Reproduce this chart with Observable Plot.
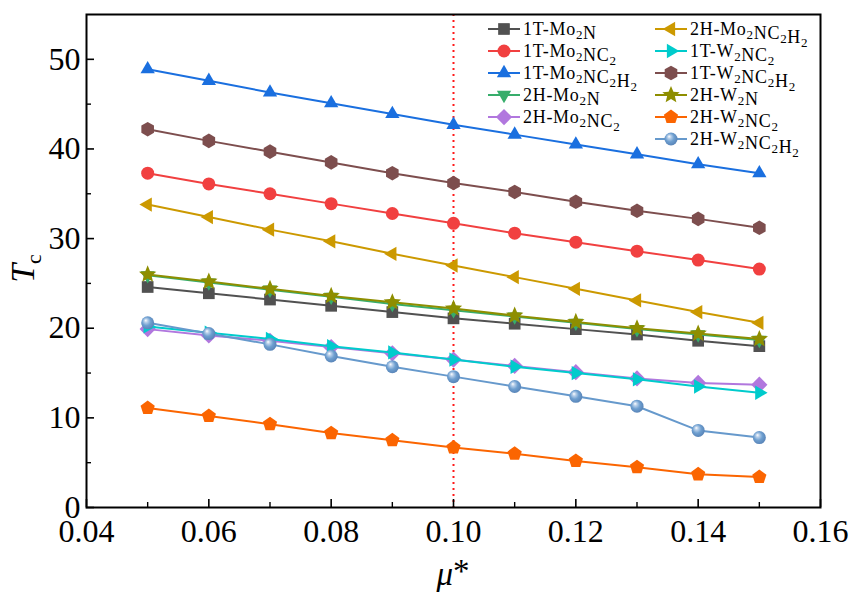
<!DOCTYPE html>
<html>
<head>
<meta charset="utf-8">
<script src="https://cdn.jsdelivr.net/npm/d3@7"></script>
<script src="https://cdn.jsdelivr.net/npm/@observablehq/plot@0.6"></script>
<style>
  html, body { margin: 0; padding: 0; background: white; }
  #chart { width: 856px; height: 600px; }
</style>
</head>
<body>
<div id="chart"></div>
<script>
// ---------- data ----------
const mu = [0.05, 0.06, 0.07, 0.08, 0.09, 0.10, 0.11, 0.12, 0.13, 0.14, 0.15];

const seriesNames = [
  "1T-Mo2N", "1T-Mo2NC2", "1T-Mo2NC2H2", "2H-Mo2N", "2H-Mo2NC2",
  "2H-Mo2NC2H2", "1T-W2NC2", "1T-W2NC2H2", "2H-W2N", "2H-W2NC2", "2H-W2NC2H2"
];
const seriesColors = [
  "#515151", "#f14040", "#1a6fdf", "#37ad6b", "#b177de",
  "#cc9900", "#00cbcc", "#7d4e4e", "#8e8e00", "#fb6501", "#6699cc"
];
const seriesSymbols = [
  "square", "circle", "triangleUp", "triangleDown", "diamond",
  "triangleLeft", "triangleRight", "hexagon", "star", "pentagon", "sphere"
];

const tc_1T_Mo2N      = [24.6, 23.9, 23.2, 22.5, 21.8, 21.1, 20.5, 19.9, 19.3, 18.6, 18.0];
const tc_1T_Mo2NC2    = [37.3, 36.1, 35.0, 33.9, 32.8, 31.7, 30.6, 29.6, 28.6, 27.6, 26.6];
const tc_1T_Mo2NC2H2  = [48.9, 47.6, 46.3, 45.1, 43.9, 42.7, 41.6, 40.5, 39.4, 38.3, 37.3];
const tc_2H_Mo2N      = [25.9, 25.1, 24.3, 23.5, 22.7, 22.0, 21.3, 20.6, 19.9, 19.3, 18.7];
const tc_2H_Mo2NC2    = [19.9, 19.2, 18.6, 17.9, 17.2, 16.5, 15.8, 15.1, 14.4, 13.9, 13.7];
const tc_2H_Mo2NC2H2  = [33.8, 32.4, 31.0, 29.7, 28.3, 27.0, 25.7, 24.4, 23.1, 21.8, 20.6];
const tc_1T_W2NC2     = [20.2, 19.5, 18.8, 18.0, 17.3, 16.5, 15.7, 15.0, 14.3, 13.5, 12.8];
const tc_1T_W2NC2H2   = [42.2, 40.9, 39.7, 38.5, 37.3, 36.2, 35.2, 34.1, 33.1, 32.2, 31.2];
const tc_2H_W2N       = [26.0, 25.2, 24.4, 23.6, 22.9, 22.2, 21.4, 20.7, 20.0, 19.4, 18.8];
const tc_2H_W2NC2     = [11.1, 10.2, 9.3, 8.3, 7.5, 6.7, 6.0, 5.2, 4.5, 3.7, 3.4];
const tc_2H_W2NC2H2   = [20.6, 19.4, 18.2, 16.9, 15.7, 14.6, 13.5, 12.4, 11.3, 8.6, 7.8];

const seriesValues = [
  tc_1T_Mo2N, tc_1T_Mo2NC2, tc_1T_Mo2NC2H2, tc_2H_Mo2N, tc_2H_Mo2NC2,
  tc_2H_Mo2NC2H2, tc_1T_W2NC2, tc_1T_W2NC2H2, tc_2H_W2N, tc_2H_W2NC2, tc_2H_W2NC2H2
];

const xMajor = [0.04, 0.06, 0.08, 0.10, 0.12, 0.14, 0.16];
const xMinor = [0.05, 0.07, 0.09, 0.11, 0.13, 0.15];
const yMajor = [0, 10, 20, 30, 40, 50];
const yMinor = [5, 15, 25, 35, 45];
const muStar = [0.10];

// ---------- symbols ----------
function polygon(ctx, R, n, startAngle) {
  for (let i = 0; i < n; i++) {
    const a = startAngle + i * 2 * Math.PI / n;
    const px = R * Math.cos(a), py = R * Math.sin(a);
    if (i === 0) ctx.moveTo(px, py); else ctx.lineTo(px, py);
  }
  ctx.closePath();
}
const rOf = size => Math.sqrt(size / Math.PI);
const symbolDefs = {
  square: { draw(ctx, size) { const s = rOf(size) * 0.9; ctx.rect(-s, -s, 2 * s, 2 * s); } },
  circle: { draw(ctx, size) { const r = rOf(size); ctx.moveTo(r, 0); ctx.arc(0, 0, r, 0, 2 * Math.PI); ctx.closePath(); } },
  sphere: { draw(ctx, size) { const r = rOf(size); ctx.moveTo(r, 0); ctx.arc(0, 0, r, 0, 2 * Math.PI); ctx.closePath(); } },
  triangleUp: { draw(ctx, size) { const R = rOf(size) * 1.27; polygon(ctx, R, 3, -Math.PI / 2); } },
  triangleDown: { draw(ctx, size) { const R = rOf(size) * 1.27; polygon(ctx, R, 3, Math.PI / 2); } },
  triangleLeft: { draw(ctx, size) { const R = rOf(size) * 1.27; polygon(ctx, R, 3, Math.PI); } },
  triangleRight: { draw(ctx, size) { const R = rOf(size) * 1.27; polygon(ctx, R, 3, 0); } },
  diamond: { draw(ctx, size) { const R = rOf(size) * 1.25; polygon(ctx, R, 4, -Math.PI / 2); } },
  hexagon: { draw(ctx, size) { const R = rOf(size) * 1.12; polygon(ctx, R, 6, -Math.PI / 2); } },
  pentagon: { draw(ctx, size) { const R = rOf(size) * 1.15; polygon(ctx, R, 5, -Math.PI / 2); } },
  star: { draw(ctx, size) {
    const R = rOf(size) * 1.4, r = R * 0.45;
    for (let i = 0; i < 10; i++) {
      const a = -Math.PI / 2 + i * Math.PI / 5;
      const rr = i % 2 === 0 ? R : r;
      if (i === 0) ctx.moveTo(rr * Math.cos(a), rr * Math.sin(a)); else ctx.lineTo(rr * Math.cos(a), rr * Math.sin(a));
    }
    ctx.closePath();
  } }
};

// ---------- chart ----------
const FONT = "Liberation Serif";
const W = 856, H = 600;
const mL = 86, mR = 36, mT = 14, mB = 93;
const innerW = W - mL - mR, innerH = H - mT - mB;
const dotR = 6.5;

const marks = [
  Plot.ruleX(muStar, {x: d => d, stroke: "#ff1a1a", strokeWidth: 2, strokeDasharray: "2,4"})
];
seriesNames.forEach((name, k) => {
  const rows = mu.map((m, i) => ({x: m, y: seriesValues[k][i]}));
  const fill = seriesSymbols[k] === "sphere" ? "url(#sphereGrad)" : seriesColors[k];
  marks.push(Plot.line(rows, {x: "x", y: "y", stroke: seriesColors[k], strokeWidth: 2}));
  marks.push(Plot.dot(rows, {x: "x", y: "y", r: dotR, symbol: symbolDefs[seriesSymbols[k]], fill, stroke: "none"}));
});
marks.push(
  Plot.ruleX(xMajor, {x: d => d, insetTop: innerH - 8, stroke: "black", strokeWidth: 1.6}),
  Plot.ruleX(xMinor, {x: d => d, insetTop: innerH - 5, stroke: "black", strokeWidth: 1.4}),
  Plot.ruleY(yMajor, {y: d => d, insetRight: innerW - 8, stroke: "black", strokeWidth: 1.6}),
  Plot.ruleY(yMinor, {y: d => d, insetRight: innerW - 5, stroke: "black", strokeWidth: 1.4}),
  Plot.frame({stroke: "black", strokeWidth: 2}),
  Plot.text(xMajor, {x: d => d, text: d => d.toFixed(2), frameAnchor: "bottom", lineAnchor: "top", dy: 12,
    fontFamily: FONT, fontSize: 32, fill: "black"}),
  Plot.text(yMajor, {y: d => d, text: d => String(d), frameAnchor: "left", textAnchor: "end", lineAnchor: "middle", dx: -6,
    fontFamily: FONT, fontSize: 32, fill: "black"})
);

const chart = Plot.plot({
  width: W, height: H,
  marginLeft: mL, marginRight: mR, marginTop: mT, marginBottom: mB,
  style: {fontFamily: FONT, background: "white", color: "black"},
  x: {domain: [0.04, 0.16], axis: null},
  y: {domain: [0, 55], axis: null},
  marks
});
document.getElementById("chart").appendChild(chart);

// ---------- decorations ----------
const svg = d3.select(chart);

const defs = svg.insert("defs", ":first-child");
const grad = defs.append("radialGradient").attr("id", "sphereGrad")
  .attr("cx", "0.45").attr("cy", "0.45").attr("r", "0.6").attr("fx", "0.35").attr("fy", "0.3");
grad.append("stop").attr("offset", "0%").attr("stop-color", "#ffffff");
grad.append("stop").attr("offset", "22%").attr("stop-color", "#b9d0ea");
grad.append("stop").attr("offset", "55%").attr("stop-color", "#6e9fd0");
grad.append("stop").attr("offset", "100%").attr("stop-color", "#5580b4");

// axis titles
const xt = svg.append("text").attr("x", mL + innerW / 2).attr("y", 585)
  .attr("text-anchor", "middle").attr("font-family", FONT).attr("font-size", 33);
xt.append("tspan").attr("font-style", "italic").text("μ");
xt.append("tspan").attr("dy", "-3").text("*");

const yt = svg.append("text").attr("transform", `translate(34, ${mT + innerH / 2 + 8}) rotate(-90)`)
  .attr("text-anchor", "middle").attr("font-family", FONT).attr("font-size", 34);
yt.append("tspan").attr("font-style", "italic").text("T");
yt.append("tspan").attr("dy", "7").attr("font-size", 22).text("c");

// legend
function addLabel(sel, name) {
  let prevLetter = false;
  for (const ch of name) {
    const isDigit = /[0-9]/.test(ch);
    if (isDigit && prevLetter) {
      sel.append("tspan").attr("dy", 4).attr("font-size", 13).text(ch);
      sel.append("tspan").attr("dy", -4).text("");
    } else {
      sel.append("tspan").text(ch);
    }
    prevLetter = /[A-Za-z]/.test(ch);
  }
}
const legendCols = [
  {lx: 488, names: seriesNames.slice(0, 5), start: 0},
  {lx: 655, names: seriesNames.slice(5), start: 5}
];
const rowY0 = 29, rowDy = 22;
const lg = svg.append("g").attr("font-family", FONT).attr("font-size", 18).attr("text-anchor", "start");
legendCols.forEach(col => {
  col.names.forEach((name, i) => {
    const k = col.start + i;
    const y = rowY0 + i * rowDy;
    lg.append("line").attr("x1", col.lx).attr("x2", col.lx + 32).attr("y1", y).attr("y2", y)
      .attr("stroke", seriesColors[k]).attr("stroke-width", 2);
    const p = d3.path();
    symbolDefs[seriesSymbols[k]].draw(p, Math.PI * dotR * dotR);
    lg.append("path").attr("d", p.toString())
      .attr("transform", `translate(${col.lx + 16}, ${y})`)
      .attr("fill", seriesSymbols[k] === "sphere" ? "url(#sphereGrad)" : seriesColors[k]);
    const t = lg.append("text").attr("x", col.lx + 35).attr("y", y + 6).attr("fill", "black")
      .attr("text-anchor", "start").attr("letter-spacing", 0.7);
    addLabel(t, name);
  });
});
</script>
</body>
</html>
